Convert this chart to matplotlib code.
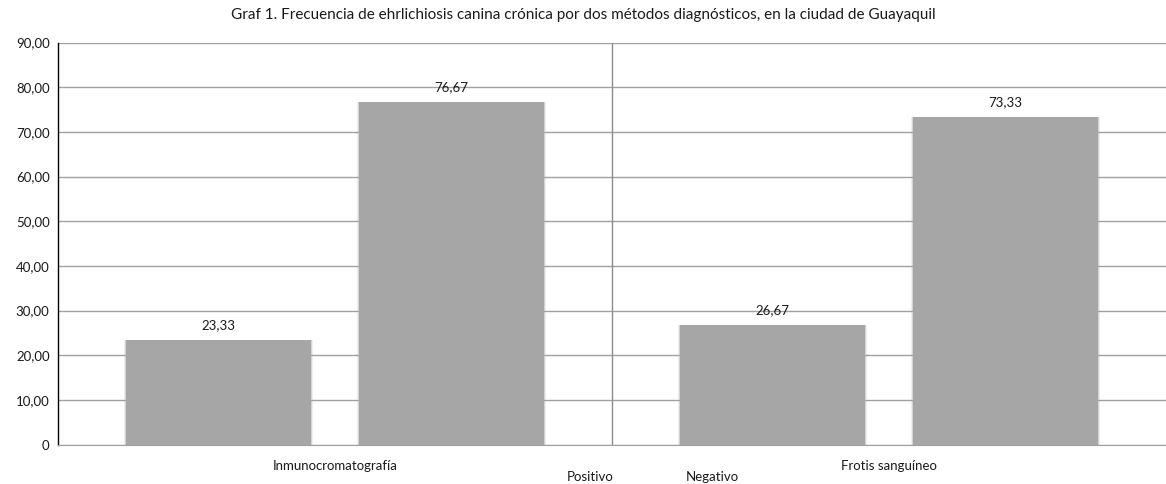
import numpy as np
import matplotlib
matplotlib.use("Agg")
import matplotlib.pyplot as plt

# frequency (%) of chronic canine ehrlichiosis by diagnostic method
metodos = ["Inmunocromatografía", "Frotis sanguíneo"]
resultados = ["Positivo", "Negativo"]
positivo = [23.33, 26.67]
negativo = [76.67, 73.33]
yticks = [0, 10, 20, 30, 40, 50, 60, 70, 80, 90]

plt.rcParams["font.family"] = ["Lato", "DejaVu Sans"]
fs = 9.5
txt_col = "#1a1a1a"

fig = plt.figure(figsize=(11.66, 4.84), dpi=100)
ax = fig.add_axes([0.0497, 0.0816, 0.9503, 0.8305])

x = np.arange(len(metodos))
off, w = 0.21, 0.334
bar_col = "#a6a6a6"

for vals, sign in ((positivo, -1), (negativo, 1)):
    xs = x + sign * off
    # faint soft edge around each bar
    for k, a in ((0.008, 0.18), (0.004, 0.35)):
        ax.bar(xs, vals, width=w + k, color=bar_col, alpha=a, linewidth=0, zorder=2)
    ax.bar(xs, vals, width=w, color=bar_col, linewidth=0, zorder=3)
    for xi, v in zip(xs, vals):
        ax.text(xi, v + 2.0, f"{v:.2f}".replace(".", ","), ha="center", va="bottom",
                fontsize=fs, color=txt_col, zorder=4)

ax.set_xlim(-0.5, 1.5)
ax.set_ylim(0, 90)
ax.set_yticks(yticks)
ax.set_yticklabels(["0"] + [f"{t},00" for t in yticks[1:]], fontsize=fs, color=txt_col)
ax.yaxis.grid(True, color="#a0a0a0", linewidth=1.0, zorder=0)
ax.axvline(0.5, color="#8c8c8c", linewidth=1.0, zorder=1)
ax.set_axisbelow(True)

ax.set_xticks(x)
ax.set_xticklabels(metodos, fontsize=fs, color=txt_col)
ax.tick_params(axis="both", length=0, pad=6)
ax.tick_params(axis="x", pad=11)

for s in ("top", "right"):
    ax.spines[s].set_visible(False)
ax.spines["left"].set_color("black")
ax.spines["left"].set_linewidth(1.0)
ax.spines["bottom"].set_color("#a0a0a0")

# series names under the axis
fig.text(590 / 1166, 1 - 477 / 484, resultados[0], ha="center", va="center",
         fontsize=fs, color=txt_col)
fig.text(712 / 1166, 1 - 477 / 484, resultados[1], ha="center", va="center",
         fontsize=fs, color=txt_col)

fig.text(0.5, 1 - 15 / 484,
         "Graf 1. Frecuencia de ehrlichiosis canina crónica por dos métodos "
         "diagnósticos, en la ciudad de Guayaquil",
         ha="center", va="center", fontsize=11, color=txt_col)

fig.savefig("out.png", dpi=100)
